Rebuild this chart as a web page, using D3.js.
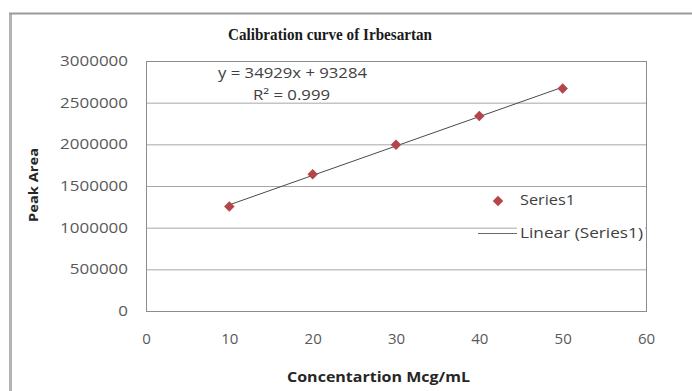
<!DOCTYPE html>
<html><head><meta charset="utf-8">
<script src="https://cdn.jsdelivr.net/npm/d3@7"></script>
<style>body{margin:0;background:#fff}svg{display:block}</style>
</head><body>
<script>
const concentrations = [10, 20, 30, 40, 50];
const peakAreas = [1255000, 1640000, 1995000, 2340000, 2670000];
const xTicks = [0, 10, 20, 30, 40, 50, 60];
const yTicks = [0, 500000, 1000000, 1500000, 2000000, 2500000, 3000000];
const titleText = "Calibration curve of Irbesartan";
const xTitle = "Concentartion Mcg/mL";
const yTitle = "Peak Area";
const eqText = "y = 34929x + 93284";
const r2Text = "R² = 0.999";
const legendLabels = ["Series1", "Linear (Series1)"];

const W = 692, H = 391;
const svg = d3.select("body").append("svg").attr("width", W).attr("height", H);
const font = "'Open Sans', 'Liberation Sans', sans-serif";

// outer frame
svg.append("line").attr("x1",10.5).attr("x2",10.5).attr("y1",13).attr("y2",H).attr("stroke","#b4b4b4").attr("stroke-width",3);
svg.append("line").attr("x1",9).attr("x2",W).attr("y1",13.5).attr("y2",13.5).attr("stroke","#9a9a9a").attr("stroke-width",2);

const x = d3.scaleLinear().domain([0, 60]).range([146, 646]);
const y = d3.scaleLinear().domain([0, 3000000]).range([311, 61]);

// gridlines
svg.append("g").selectAll("line").data(yTicks.slice(1)).join("line")
  .attr("x1", x(0)).attr("x2", x(60)).attr("y1", d => y(d)+0.5).attr("y2", d => y(d)+0.5)
  .attr("stroke", "#a6a6a6").attr("stroke-width", 1);
// plot border
svg.append("rect").attr("x", x(0)+0.5).attr("y", y(3000000)+0.5).attr("width", x(60)-x(0)).attr("height", y(0)-y(3000000))
  .attr("fill","none").attr("stroke","#8c8c8c").attr("stroke-width",1);

// axes
const yAxis = d3.axisLeft(y).tickValues(yTicks).tickFormat(d3.format("d")).tickSize(0).tickPadding(18);
const gy = svg.append("g").attr("transform", `translate(${x(0)},0)`).call(yAxis);
gy.select(".domain").remove();
gy.selectAll("text").attr("font-family", font).attr("font-size", 14).attr("fill", "#595959")
  .attr("textLength", d => String(d).length * 9.7).attr("lengthAdjust","spacingAndGlyphs");

const xAxis = d3.axisBottom(x).tickValues(xTicks).tickSize(0).tickPadding(23);
const gx = svg.append("g").attr("transform", `translate(0,${y(0)})`).call(xAxis);
gx.select(".domain").remove();
gx.selectAll("text").attr("font-family", font).attr("font-size", 14).attr("fill", "#595959")
  .attr("textLength", d => String(d).length * 8.6).attr("lengthAdjust","spacingAndGlyphs");

// white background behind legend entries
svg.append("rect").attr("x", 517).attr("y", 190).attr("width", 128).attr("height", 55).attr("fill","#fff");

// trendline (least squares from data)
const mx = d3.mean(concentrations), my = d3.mean(peakAreas);
const slope = d3.sum(concentrations.map((c,i)=>(c-mx)*(peakAreas[i]-my))) / d3.sum(concentrations.map(c=>(c-mx)**2));
const icpt = my - slope*mx;
const ext = d3.extent(concentrations);
svg.append("path").datum(ext)
  .attr("d", d3.line().x(d=>x(d)).y(d=>y(slope*d+icpt)))
  .attr("stroke","#4a4a4a").attr("stroke-width",1).attr("fill","none");

// markers
const diamond = d3.symbol().type(d3.symbolDiamond2).size(70);
svg.append("g").selectAll("path").data(concentrations).join("path")
  .attr("d", diamond)
  .attr("transform", (d,i) => `translate(${x(d)},${y(peakAreas[i])})`)
  .attr("fill", "#b3454b");

// title
svg.append("text").attr("x", 330).attr("y", 40).attr("text-anchor","middle")
  .attr("font-family","'Liberation Serif', 'Times New Roman', serif").attr("font-weight","bold").attr("font-size",16)
  .attr("fill","#1a1a1a").attr("textLength", 204).attr("lengthAdjust","spacingAndGlyphs").text(titleText);

// equation
svg.append("text").attr("x", 218).attr("y", 78).attr("font-family", font).attr("font-size", 14).attr("fill","#404040")
  .attr("textLength", 149).attr("lengthAdjust","spacingAndGlyphs").text(eqText);
svg.append("text").attr("x", 253).attr("y", 100).attr("font-family", font).attr("font-size", 14).attr("fill","#404040")
  .attr("textLength", 77).attr("lengthAdjust","spacingAndGlyphs").text(r2Text);

// axis titles
svg.append("text").attr("x", 378.5).attr("y", 382).attr("text-anchor","middle")
  .attr("font-family", font).attr("font-weight","bold").attr("font-size",14).attr("fill","#262626")
  .attr("textLength", 183).attr("lengthAdjust","spacingAndGlyphs").text(xTitle);
svg.append("text").attr("transform","translate(38,185) rotate(-90)").attr("text-anchor","middle")
  .attr("font-family", font).attr("font-weight","bold").attr("font-size",13).attr("fill","#262626")
  .attr("textLength", 74).attr("lengthAdjust","spacingAndGlyphs").text(yTitle);

// legend
svg.append("path").attr("d", diamond).attr("transform","translate(498,201)").attr("fill","#b3454b");
svg.append("text").attr("x", 520).attr("y", 205).attr("font-family", font).attr("font-size",14).attr("fill","#404040")
  .attr("textLength", 55).attr("lengthAdjust","spacingAndGlyphs").text(legendLabels[0]);
svg.append("line").attr("x1",478).attr("x2",517).attr("y1",233.5).attr("y2",233.5).attr("stroke","#6a6a6a").attr("stroke-width",1);
svg.append("text").attr("x", 520).attr("y", 238).attr("font-family", font).attr("font-size",14).attr("fill","#404040")
  .attr("textLength", 123).attr("lengthAdjust","spacingAndGlyphs").text(legendLabels[1]);
</script>
</body></html>
